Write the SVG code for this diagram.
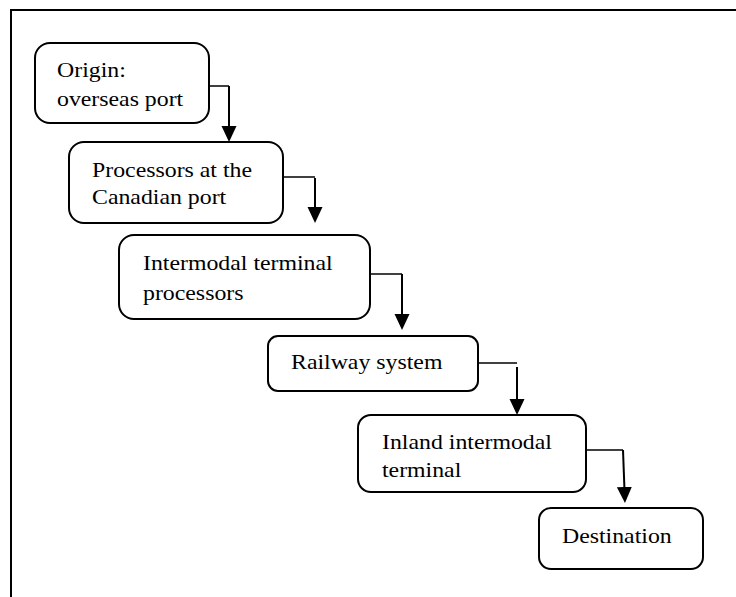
<svg xmlns="http://www.w3.org/2000/svg" width="736" height="597" viewBox="0 0 736 597">
<style>
.box{fill:#fff;stroke:#000;stroke-width:2}
.t{font-family:"Liberation Serif","Times New Roman",serif;font-size:21.5px;fill:#000}
.c{fill:none;stroke:#000;stroke-width:2}
.h{fill:none;stroke:#000;stroke-width:1.5}
</style>
<defs>
<marker id="ah" markerUnits="userSpaceOnUse" markerWidth="17" markerHeight="16" refX="6" refY="7.5" orient="auto" viewBox="0 0 17 15">
<path d="M0,0 L16,7.5 L0,15 Z" fill="#000"/>
</marker>
</defs>
<rect x="0" y="0" width="736" height="597" fill="#fff"/>
<path d="M11,597 V10 H736" fill="none" stroke="#000" stroke-width="2"/>
<g id="connectors">
<path class="h" d="M209,86 H229"/>
<path class="c" d="M229,86 V132" marker-end="url(#ah)"/>
<path class="h" d="M283,177 H315"/>
<path class="c" d="M315,178 V213" marker-end="url(#ah)"/>
<path class="h" d="M370,274 H402"/>
<path class="c" d="M402,274 V320" marker-end="url(#ah)"/>
<path class="h" d="M478,363 H517"/>
<path class="c" d="M517,367 V405" marker-end="url(#ah)"/>
<path class="h" d="M586,450 H623"/>
<path class="c" d="M623,450 L624.6,493" marker-end="url(#ah)"/>
</g>
<g id="origin">
<rect class="box" x="35" y="43" width="174" height="80" rx="15"/>
<text class="t" x="57" y="77" textLength="68.8" lengthAdjust="spacingAndGlyphs">Origin:</text>
<text class="t" x="57" y="106" textLength="126.2" lengthAdjust="spacingAndGlyphs">overseas port</text>
</g>
<g id="processors-port">
<rect class="box" x="69" y="142" width="214" height="81" rx="15"/>
<text class="t" x="92" y="177" textLength="160" lengthAdjust="spacingAndGlyphs">Processors at the</text>
<text class="t" x="92" y="204" textLength="134.2" lengthAdjust="spacingAndGlyphs">Canadian port</text>
</g>
<g id="intermodal-processors">
<rect class="box" x="119" y="235" width="251" height="84" rx="15"/>
<text class="t" x="143" y="270" textLength="189.7" lengthAdjust="spacingAndGlyphs">Intermodal terminal</text>
<text class="t" x="143" y="300" textLength="100.5" lengthAdjust="spacingAndGlyphs">processors</text>
</g>
<g id="railway">
<rect class="box" x="268" y="336" width="210" height="55" rx="10"/>
<text class="t" x="291" y="369" textLength="151.4" lengthAdjust="spacingAndGlyphs">Railway system</text>
</g>
<g id="inland-terminal">
<rect class="box" x="358" y="415" width="228" height="77" rx="13"/>
<text class="t" x="382" y="449" textLength="169.9" lengthAdjust="spacingAndGlyphs">Inland intermodal</text>
<text class="t" x="382" y="477" textLength="79.3" lengthAdjust="spacingAndGlyphs">terminal</text>
</g>
<g id="destination">
<rect class="box" x="539" y="508" width="164" height="61" rx="12"/>
<text class="t" x="562" y="543" textLength="109.7" lengthAdjust="spacingAndGlyphs">Destination</text>
</g>
</svg>
